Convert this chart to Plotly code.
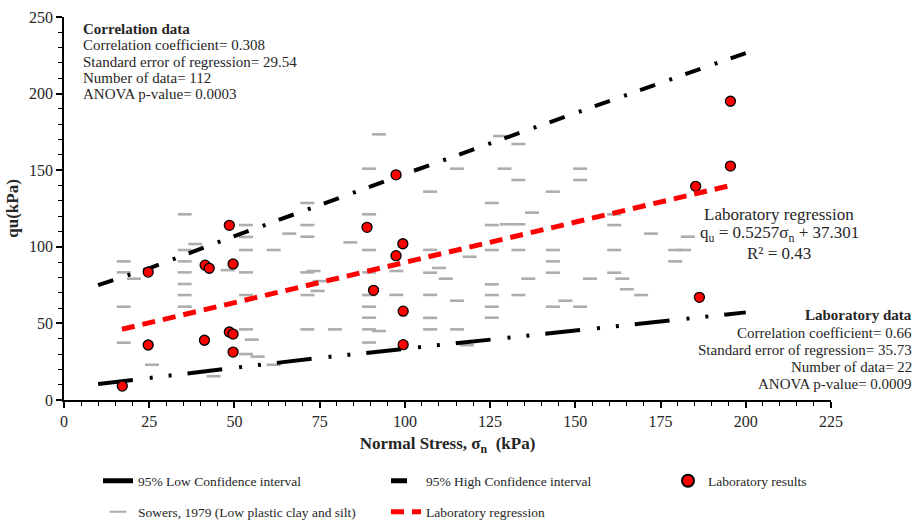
import plotly.graph_objects as go

# ---------------- data ----------------
lab_x = [17.1, 24.7, 24.7, 41.4, 42.6, 48.5, 49.6, 41.2, 48.5, 49.6, 49.6,
         88.9, 97.4, 99.4, 97.4, 90.8, 99.5, 99.5, 185.3, 195.5, 195.5, 186.4]
lab_y = [9.1, 83.5, 35.9, 88.0, 86.0, 114.0, 88.8, 39.0, 44.4, 43.0, 31.3,
         112.7, 147.0, 102.0, 94.2, 71.6, 58.0, 36.1, 139.5, 195.0, 152.7, 67.0]

sow_x = [17.5, 17.5, 17.5, 17.5, 20.5, 25.8,
         35.4, 35.4, 35.4, 35.4, 35.4, 35.4, 35.4, 38.5, 43.9, 48.0,
         53.4, 53.4, 53.4, 53.4, 53.4, 53.4, 53.4, 55.1, 56.8, 61.5, 61.5, 66.1,
         71.4, 71.4, 71.4, 71.4, 71.4, 71.4, 73.2, 75.0, 74.4, 79.5, 84.0,
         89.5, 89.5, 89.5, 89.5, 89.5, 89.5, 89.5, 89.5, 89.5, 92.4, 92.4,
         97.5, 97.5, 107.4, 107.4, 107.4, 107.4, 107.4, 107.4, 110.0, 112.0,
         115.3, 115.3, 115.3, 119.0, 118.2,
         125.5, 125.5, 125.5, 125.5, 125.5, 125.5, 125.5, 127.9, 129.2, 129.9,
         133.3, 133.3, 133.3, 133.3, 133.3, 136.2, 137.3,
         143.4, 143.4, 143.4, 143.4, 143.4, 147.1, 151.4, 151.4, 151.4, 154.3,
         161.4, 161.4, 161.4, 161.4, 163.8, 165.1, 169.3, 172.2,
         179.3, 179.3, 181.9, 183.0]
sow_y = [90.5, 83.3, 60.9, 37.4, 79.2, 23.0,
         121.2, 97.9, 90.5, 83.3, 75.7, 68.5, 60.9, 101.8, 15.5, 84.8,
         114.2, 106.4, 97.9, 83.3, 68.5, 46.1, 30.0, 39.4, 28.3, 97.9, 23.0, 108.6,
         128.6, 114.2, 106.6, 83.3, 68.5, 46.1, 84.2, 77.6, 71.2, 46.1, 102.9,
         151.0, 121.2, 97.9, 83.3, 68.5, 60.9, 53.7, 46.1, 37.5, 173.4, 45.0,
         84.2, 68.6, 136.0, 98.0, 83.1, 68.6, 53.6, 46.1, 86.2, 79.2,
         151.0, 64.8, 46.1, 93.5, 35.8,
         128.6, 114.2, 97.9, 75.5, 68.5, 60.9, 53.7, 172.3, 151.0, 114.7,
         167.1, 143.6, 114.7, 97.9, 68.5, 79.2, 122.3,
         136.0, 97.9, 90.5, 83.1, 60.9, 64.8, 151.0, 143.6, 60.9, 79.2,
         121.2, 114.2, 97.9, 83.1, 79.2, 72.3, 68.5, 108.6,
         97.9, 90.5, 97.9, 106.6]

ci_x = [10, 25, 50, 75, 100, 125, 150, 175, 200]
ci_low = [10.4, 14.5, 21.0, 27.5, 33.5, 39.5, 45.0, 51.0, 57.2]
ci_high = [75.0, 86.0, 107.0, 127.5, 147.5, 167.5, 187.5, 207.0, 226.5]

reg_x = [17.0, 196.0]
reg_y = [46.2, 140.3]

x_ticks = [0, 25, 50, 75, 100, 125, 150, 175, 200, 225]
y_ticks = [0, 50, 100, 150, 200, 250]

FONT = "Liberation Serif"
TXT = "#262626"

fig = go.Figure()

fig.add_trace(go.Scatter(
    x=sow_x, y=sow_y, mode="markers", name="Sowers, 1979 (Low plastic clay and silt)",
    marker=dict(symbol="line-ew", size=10, color="#ADADAD",
                line=dict(color="#ADADAD", width=2.6)),
    legend="legend2", legendrank=1))

fig.add_trace(go.Scatter(
    x=ci_x, y=ci_low, mode="lines", name="95% Low Confidence interval",
    line=dict(color="black", width=4, dash="35px,17px,3px,16px,3px,16px"),
    legend="legend", legendrank=1))

fig.add_trace(go.Scatter(
    x=ci_x, y=ci_high, mode="lines", name="95% High Confidence interval",
    line=dict(color="black", width=4, dash="16px,15px,3px,14px"),
    legend="legend", legendrank=2))

fig.add_trace(go.Scatter(
    x=lab_x, y=lab_y, mode="markers", name="Laboratory results",
    marker=dict(symbol="circle", size=10, color="#FF0000",
                line=dict(color="black", width=1.3)),
    legend="legend3", legendrank=3))

fig.add_trace(go.Scatter(
    x=reg_x, y=reg_y, mode="lines", name="Laboratory regression",
    line=dict(color="#FF0000", width=5, dash="13px,8px"),
    legend="legend2", legendrank=2))

# ---------------- annotations ----------------
ann = []
tl = ["<b>Correlation data</b>", "Correlation coefficient= 0.308",
      "Standard error of regression= 29.54", "Number of data= 112",
      "ANOVA p-value= 0.0003"]
tl_y = [29, 45.5, 62, 78, 94.5]
for t, py in zip(tl, tl_y):
    ann.append(dict(text=t, xref="paper", yref="paper", x=(81 - 64) / 767,
                    y=(400 - py) / 383, xanchor="left", yanchor="middle",
                    showarrow=False, font=dict(family=FONT, size=15, color=TXT)))

rg = ["Laboratory regression", "q<sub>u</sub> = 0.5257σ<sub>n</sub> + 37.301",
      "R² = 0.43"]
rg_y = [215, 233.5, 253]
for t, py in zip(rg, rg_y):
    ann.append(dict(text=t, xref="paper", yref="paper", x=(779 - 64) / 767,
                    y=(400 - py) / 383, xanchor="center", yanchor="middle",
                    showarrow=False, font=dict(family=FONT, size=17, color=TXT)))

ld = ["<b>Laboratory data</b>", "Correlation coefficient= 0.66",
      "Standard error of regression= 35.73", "Number of data= 22",
      "ANOVA p-value= 0.0009"]
ld_y = [315, 332.5, 349.5, 366.5, 383.5]
for t, py in zip(ld, ld_y):
    ann.append(dict(text=t, xref="paper", yref="paper", x=(914 - 64) / 767,
                    y=(400 - py) / 383, xanchor="right", yanchor="middle",
                    showarrow=False, font=dict(family=FONT, size=15, color=TXT)))

leg_common = dict(orientation="h", xref="container", yref="container",
                  xanchor="left", yanchor="middle",
                  entrywidthmode="pixels",
                  font=dict(family=FONT, size=13.5, color=TXT),
                  bgcolor="rgba(0,0,0,0)", itemsizing="constant")

fig.update_layout(
    width=917, height=521,
    margin=dict(l=64, r=86, t=17, b=121, autoexpand=False),
    plot_bgcolor="white", paper_bgcolor="white",
    font=dict(family=FONT, color=TXT),
    annotations=ann,
    legend=dict(leg_common, x=98 / 917, y=(521 - 481) / 521, entrywidth=243),
    legend2=dict(leg_common, x=98 / 917, y=(521 - 512) / 521, entrywidth=243),
    legend3=dict(leg_common, x=668 / 917, y=(521 - 481) / 521, entrywidth=200),
)

fig.update_xaxes(
    range=[0, 225], tickvals=x_ticks, ticktext=[str(v) for v in x_ticks],
    showgrid=False, zeroline=False, showline=True, linecolor="black", linewidth=1.8,
    ticks="outside", ticklen=6, tickwidth=1.5, tickcolor="black",
    minor=dict(dtick=5, ticks="outside", ticklen=4, tickwidth=1.3, tickcolor="black"),
    tickfont=dict(family=FONT, size=16, color=TXT),
    title=dict(text="<b>Normal Stress, σ<sub>n</sub>  (kPa)</b>", standoff=8,
               font=dict(family=FONT, size=17, color=TXT)),
)
fig.update_yaxes(
    range=[0, 250], tickvals=y_ticks, ticktext=[str(v) for v in y_ticks],
    showgrid=False, zeroline=False, showline=True, linecolor="black", linewidth=1.8,
    ticks="outside", ticklen=6, tickwidth=1.5, tickcolor="black",
    minor=dict(dtick=10, ticks="outside", ticklen=4, tickwidth=1.3, tickcolor="black"),
    tickfont=dict(family=FONT, size=16, color=TXT),
    title=dict(text="<b>qu(kPa)</b>", standoff=6,
               font=dict(family=FONT, size=17, color=TXT)),
)

fig.write_html("out.html")
